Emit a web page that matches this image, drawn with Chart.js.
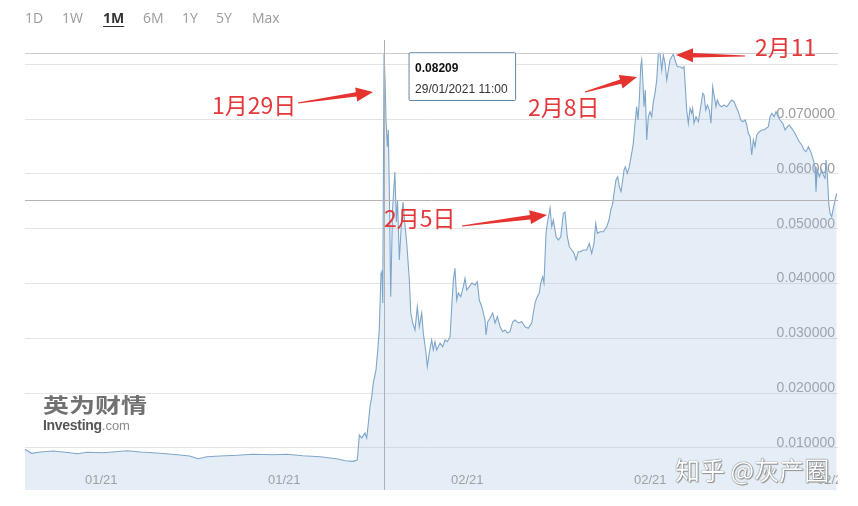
<!DOCTYPE html>
<html>
<head>
<meta charset="utf-8">
<script src="https://cdn.jsdelivr.net/npm/chart.js@4.4.1/dist/chart.umd.min.js"></script>
<style>
html, body { margin: 0; padding: 0; background: #fff; }
#wrap { position: relative; width: 858px; height: 506px; overflow: hidden; }
#c { position: absolute; left: 0; top: 0; }
.tab { position: absolute; top: 8px; font: 14px "Open Sans", sans-serif; color: #9b9b9b; }
.tab.on { color: #333; font-weight: bold; text-decoration: underline; text-underline-offset: 3px; }
.note { position: absolute; font: 23px "Noto Sans CJK SC", sans-serif; color: #e3373a; line-height: 23px; white-space: nowrap; }
#logo { position: absolute; left: 43px; top: 394px; }
#logo .cn { font: 700 20px "Noto Sans CJK SC", sans-serif; color: #717171; line-height: 22px; transform: scaleX(1.3); transform-origin: left center; white-space: nowrap; }
#logo .en { font: 13px "Liberation Sans", Arial, sans-serif; color: #8a8a8a; margin-top: 1px; }
#logo .en b { color: #555; font-size: 14px; letter-spacing: -0.3px; }
#mark { position: absolute; left: 675px; top: 455px; font: 25px "Noto Sans CJK SC", sans-serif; color: #fff; line-height: 28px; white-space: nowrap;
  text-shadow: 0 0 1px #666, 0 0 1px #666, 1px 1px 1px #999; }
#arrows { position: absolute; left: 0; top: 0; }
</style>
</head>
<body>
<div id="wrap">
  <canvas id="c" width="858" height="506"></canvas>
  <span class="tab" style="left:25px">1D</span>
  <span class="tab" style="left:62px">1W</span>
  <span class="tab on" style="left:103px">1M</span>
  <span class="tab" style="left:143px">6M</span>
  <span class="tab" style="left:182px">1Y</span>
  <span class="tab" style="left:216px">5Y</span>
  <span class="tab" style="left:252px">Max</span>
  <div id="logo"><div class="cn">英为财情</div><div class="en"><b>Investing</b>.com</div></div>
  <div id="mark">知乎 @灰产圈</div>
  <div class="note" style="left:212px; top:93px">1月29日</div>
  <div class="note" style="left:384px; top:206px">2月5日</div>
  <div class="note" style="left:528px; top:95px">2月8日</div>
  <div class="note" style="left:755px; top:35px">2月11</div>
  <svg id="arrows" width="858" height="506"></svg>
</div>
<script>
// hours since 15/01 02:00, price in USD

// quiet weeks before the pump
const hoursFlat = [0, 6, 14, 26, 41, 48, 57, 72, 94, 106, 124, 140, 151, 159, 167, 179, 195, 209, 228, 240, 255, 271, 286, 294, 301, 305];
const pricesFlat = [0.00976, 0.00903, 0.00927, 0.00945, 0.00914, 0.00896, 0.00922, 0.00914, 0.00951, 0.00927, 0.00903, 0.00878, 0.00854, 0.00805, 0.00841, 0.00854, 0.00867, 0.00885, 0.00878, 0.00885, 0.00860, 0.00841, 0.00805, 0.00768, 0.00757, 0.00781];

// 28-29/01 spike
const hoursSpike = [305.7, 306.9, 309.1, 312.1, 313.7, 315.2, 316.7, 318.3, 319.7, 322.2,
  323.8, 325.2, 326.8, 327.7, 328.4, 329.6, 330.5, 331.4, 332.6, 333.5,
  334.6, 335.7, 337.4, 339.5, 340.9, 342.0, 343.6, 345.2, 347.0, 348.8,
  350.4, 352.8, 354.1, 355.9];
const pricesSpike = [0.00933, 0.01237, 0.01182, 0.01274, 0.01182, 0.01456, 0.01753, 0.01936, 0.02185, 0.02423,
  0.02787, 0.03152, 0.04192, 0.04246, 0.03644, 0.08209, 0.07711, 0.06982, 0.06495, 0.06799,
  0.05523, 0.03759, 0.05340, 0.06033, 0.05122, 0.05523, 0.04429, 0.04976, 0.05486, 0.05067,
  0.04739, 0.04064, 0.03462, 0.03280];

// pull-back
const hoursDip = [358.0, 360.1, 362.0, 364.2, 365.6, 368.1, 369.3, 371.1, 373.3, 374.8,
  376.4, 377.9, 381.0, 383.4, 385.6, 387.7, 390.2, 391.7, 393.2, 394.7,
  396.3, 397.8, 400.0, 402.4, 403.9, 405.5, 407.9, 410.1, 413.1, 415.2,
  417.0, 419.3, 420.7, 422.3, 423.2, 424.8, 426.9, 429.3, 431.5, 433.6,
  436.1, 438.5, 440.6, 442.7, 445.2, 447.7, 449.8, 452.9, 456.0, 459.0,
  462.0, 465.2, 466.6, 468.2, 469.7, 472.1, 473.4, 475.2, 476.4];
const pricesDip = [0.03152, 0.03577, 0.03212, 0.03462, 0.03097, 0.02733, 0.02483, 0.02733, 0.02970, 0.02787,
  0.02939, 0.02787, 0.02915, 0.02847, 0.02970, 0.02939, 0.03030, 0.03577, 0.04064, 0.04277,
  0.03699, 0.03827, 0.03759, 0.03942, 0.04095, 0.03881, 0.03942, 0.04009, 0.03973, 0.04033,
  0.03699, 0.03577, 0.03462, 0.03334, 0.03061, 0.03303, 0.03365, 0.03462, 0.03280, 0.03395,
  0.03212, 0.03121, 0.03152, 0.03097, 0.03121, 0.03303, 0.03334, 0.03280, 0.03303, 0.03212,
  0.03183, 0.03280, 0.03462, 0.03644, 0.03736, 0.03827, 0.04009, 0.04124, 0.04009];

// 05/02 - 08/02 rally
const hoursRally = [478.3, 479.5, 482.0, 483.5, 485.0, 487.5, 489.6, 491.8, 494.2, 495.7,
  497.8, 499.7, 501.9, 504.0, 505.8, 507.9, 510.1, 512.5, 515.6, 518.0,
  520.2, 522.3, 523.9, 525.4, 527.9, 530.9, 534.0, 536.1, 537.7, 539.5,
  540.7, 542.5, 544.1, 545.6, 547.1, 548.7, 549.9, 551.1, 552.9, 554.7,
  556.9, 558.4, 560.0, 561.5, 562.7, 563.9];
const pricesRally = [0.04921, 0.05103, 0.05377, 0.05036, 0.05158, 0.04854, 0.04793, 0.04854, 0.05280, 0.05304,
  0.04854, 0.04671, 0.04611, 0.04551, 0.04429, 0.04580, 0.04580, 0.04611, 0.04611, 0.04733,
  0.04551, 0.04733, 0.05098, 0.04916, 0.04945, 0.04945, 0.05036, 0.05158, 0.05340, 0.05463,
  0.05645, 0.05888, 0.05948, 0.05765, 0.05674, 0.05888, 0.06070, 0.06130, 0.06010, 0.06130,
  0.06374, 0.06557, 0.06922, 0.07224, 0.06982, 0.07347];

// top around 08/02 - 11/02
const hoursTop = [565.2, 566.1, 567.0, 568.2, 569.4, 570.7, 572.2, 573.8, 575.3, 576.8,
  578.3, 579.9, 581.4, 582.9, 584.5, 586.0, 587.5, 589.1, 590.6, 592.1,
  593.7, 595.1, 596.7, 598.8, 601.3, 603.8, 605.0];
const pricesTop = [0.07954, 0.08076, 0.07771, 0.07224, 0.07529, 0.06617, 0.07042, 0.07133, 0.07042, 0.07316,
  0.07469, 0.07711, 0.08198, 0.08198, 0.07894, 0.08167, 0.08016, 0.07711, 0.07894, 0.08076,
  0.08136, 0.08185, 0.08076, 0.07954, 0.07954, 0.07925, 0.07954];

// slide afterwards
const hoursSlide = [606.2, 607.4, 608.9, 610.5, 612.0, 612.9, 614.1, 616.0, 618.1, 620.3,
  622.1, 623.3, 624.9, 626.4, 628.2, 629.7, 631.3, 632.8, 634.3, 635.5,
  637.4, 639.6, 641.7, 644.2, 646.5, 648.8, 650.9, 652.7, 654.8, 657.0,
  658.8, 661.0, 662.5, 664.0, 665.6, 667.1, 668.6, 670.1, 671.7, 674.1,
  676.3, 678.4, 680.2, 682.4, 683.9, 685.7, 687.6, 689.4, 691.5, 693.1,
  695.6, 697.7, 699.8, 701.6, 703.8, 705.9, 708.4, 710.8, 713.0, 715.1,
  717.0, 719.1, 721.3, 723.7, 725.2, 726.1, 727.3, 729.2, 731.4, 732.8,
  734.4, 735.3, 736.5, 737.8, 739.0, 740.5, 742.0, 743.6, 745.1];
const pricesSlide = [0.07565, 0.07164, 0.06922, 0.07195, 0.07104, 0.07195, 0.06922, 0.07042, 0.06951, 0.07224,
  0.07469, 0.07438, 0.07164, 0.07255, 0.07164, 0.06922, 0.07589, 0.07407, 0.07224, 0.07347,
  0.07255, 0.07224, 0.07255, 0.07224, 0.07286, 0.07347, 0.07316, 0.07224, 0.07133, 0.06982,
  0.06951, 0.06982, 0.06891, 0.06739, 0.06677, 0.06343, 0.06617, 0.06495, 0.06708, 0.06768,
  0.06799, 0.06799, 0.06830, 0.06860, 0.07042, 0.07104, 0.07042, 0.07133, 0.07042, 0.06982,
  0.06922, 0.06799, 0.06860, 0.06891, 0.06830, 0.06768, 0.06677, 0.06586, 0.06526, 0.06435,
  0.06404, 0.06495, 0.06404, 0.06252, 0.06130, 0.05674, 0.06070, 0.05948, 0.06070, 0.05979,
  0.05919, 0.06252, 0.05979, 0.05463, 0.05280, 0.05218, 0.05371, 0.05523, 0.05645];

const xTickHours = [70, 238, 406, 574, 742];
const xTickLabels = ['01/21', '01/21', '02/21', '02/21', '02/21'];
const yTickValues = [0.01, 0.02, 0.03, 0.04, 0.05, 0.06, 0.07];
const lastPrice = 0.05523;
const peakTime = '29/01/2021 11:00';

const hours = [].concat(hoursFlat, hoursSpike, hoursDip, hoursRally, hoursTop, hoursSlide);
const prices = [].concat(pricesFlat, pricesSpike, pricesDip, pricesRally, pricesTop, pricesSlide);
const points = hours.map((h, i) => ({ x: h, y: prices[i] }));
const peakIndex = prices.indexOf(Math.max(...prices));

Chart.Tooltip.positioners.pinned = function (items) {
    if (!items.length) return false;
    const el = items[0].element;
    return { x: el.x + 26, y: el.y };
};

// crosshair, last price line and the inner date labels
const overlay = {
    id: 'overlay',
    afterDatasetsDraw(chart) {
        const { ctx, chartArea: a, scales: { x, y } } = chart;
        const px = Math.round(x.getPixelForValue(points[peakIndex].x)) + 0.5;
        const py = Math.round(y.getPixelForValue(points[peakIndex].y)) + 0.5;
        const ly = Math.round(y.getPixelForValue(lastPrice)) + 0.5;
        ctx.save();
        ctx.lineWidth = 1;
        ctx.strokeStyle = '#b3b3b3';
        ctx.beginPath(); ctx.moveTo(a.left, ly); ctx.lineTo(a.right, ly); ctx.stroke();
        ctx.strokeStyle = '#cdcdcd';
        ctx.beginPath(); ctx.moveTo(a.left, py); ctx.lineTo(a.right, py); ctx.stroke();
        ctx.strokeStyle = '#b0b0b0';
        ctx.beginPath(); ctx.moveTo(px, a.top); ctx.lineTo(px, a.bottom); ctx.stroke();

        ctx.beginPath();
        ctx.rect(a.left, a.top, a.right - a.left, a.bottom - a.top);
        ctx.clip();
        ctx.font = '13px "Liberation Sans", Arial, sans-serif';
        ctx.fillStyle = '#a0a0a0';
        ctx.textAlign = 'center';
        ctx.textBaseline = 'middle';
        xTickHours.forEach((h, i) => {
            ctx.fillText(xTickLabels[i], x.getPixelForValue(h), a.bottom - 10);
        });
        ctx.restore();
    }
};

const chart = new Chart(document.getElementById('c'), {
    type: 'line',
    data: {
        datasets: [{
            data: points,
            borderColor: '#7fa6ca',
            borderWidth: 1.1,
            backgroundColor: 'rgba(160, 195, 222, 0.28)',
            fill: 'start',
            tension: 0,
            pointRadius: 0,
            pointHoverRadius: 0
        }]
    },
    options: {
        responsive: false,
        animation: false,
        events: [],
        layout: { padding: { left: 25, right: 20, top: 40, bottom: 16 } },
        scales: {
            x: { type: 'linear', min: 0, max: 746.3, display: false },
            y: {
                position: 'right',
                min: 0.00234,
                max: 0.08441,
                border: { display: false },
                grid: { color: '#e4e4e4', drawTicks: false },
                ticks: {
                    mirror: true,
                    padding: -3,
                    labelOffset: -5,
                    stepSize: 0.01,
                    includeBounds: false,
                    color: '#9a9a9a',
                    font: { family: '"Liberation Sans", Arial, sans-serif', size: 14 },
                    callback: v => yTickValues.some(t => Math.abs(t - v) < 1e-9) ? v.toFixed(6) : ''
                }
            }
        },
        plugins: {
            legend: { display: false },
            tooltip: {
                enabled: true,
                animation: false,
                position: 'pinned',
                xAlign: 'left',
                yAlign: 'top',
                caretSize: 0,
                caretPadding: 0,
                cornerRadius: 1,
                backgroundColor: '#ffffff',
                borderColor: '#6287a9',
                borderWidth: 1,
                displayColors: false,
                titleColor: '#111',
                bodyColor: '#333',
                titleFont: { family: '"Liberation Sans", Arial, sans-serif', size: 12, weight: 'bold' },
                bodyFont: { family: '"Liberation Sans", Arial, sans-serif', size: 12 },
                padding: { top: 9, bottom: 4, left: 6, right: 8 },
                titleMarginBottom: 6,
                callbacks: {
                    title: items => items[0].parsed.y.toFixed(5),
                    label: () => peakTime
                }
            }
        }
    },
    plugins: [overlay]
});

chart.tooltip.setActiveElements([{ datasetIndex: 0, index: peakIndex }], { x: 0, y: 0 });
chart.update();

// red arrows pointing at the marked days
const arrows = [
    [298, 103, 373, 92],
    [462, 226, 547, 215],
    [585, 92, 637, 77],
    [745, 56, 676, 55]
];
const svg = document.getElementById('arrows');
arrows.forEach(([tx, ty, px, py]) => {
    const len = Math.hypot(px - tx, py - ty);
    const dx = (px - tx) / len, dy = (py - ty) / len;
    const nx = -dy, ny = dx;
    const bx = px - dx * 17, by = py - dy * 17;
    const pts = [
        [tx + nx * 0.6, ty + ny * 0.6],
        [bx + nx * 2.2, by + ny * 2.2],
        [bx + nx * 7, by + ny * 7],
        [px, py],
        [bx - nx * 7, by - ny * 7],
        [bx - nx * 2.2, by - ny * 2.2],
        [tx - nx * 0.6, ty - ny * 0.6]
    ];
    const poly = document.createElementNS('http://www.w3.org/2000/svg', 'polygon');
    poly.setAttribute('points', pts.map(p => p[0].toFixed(1) + ',' + p[1].toFixed(1)).join(' '));
    poly.setAttribute('fill', '#e5332f');
    svg.appendChild(poly);
});
</script>
</body>
</html>
